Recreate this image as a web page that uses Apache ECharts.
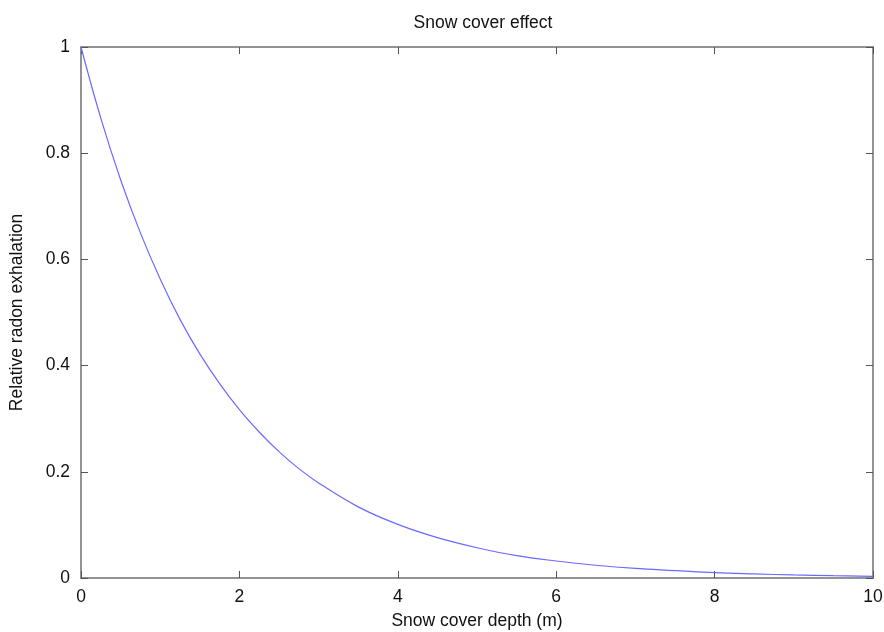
<!DOCTYPE html>
<html>
<head>
<meta charset="utf-8">
<script src="https://cdn.jsdelivr.net/npm/echarts@6/dist/echarts.min.js"></script>
<style>
  html, body { margin: 0; padding: 0; background: #fff; }
  #chart { width: 884px; height: 632px; }
</style>
</head>
<body>
<div id="chart"></div>
<script>
// Snow depth (m) and relative radon exhalation under that depth
const depth = [0, 0.25, 0.5, 0.75, 1.0, 1.25, 1.5, 1.75, 2.0, 2.25, 2.5, 2.75, 3.0,
  3.5, 4.0, 4.5, 5.0, 5.5, 6.0, 6.5, 7.0, 7.5, 8.0, 8.5, 9.0, 9.5, 10];
const exhalation = [1.0, 0.866, 0.75, 0.65, 0.563, 0.487, 0.422, 0.366, 0.317, 0.275,
  0.238, 0.206, 0.179, 0.134, 0.101, 0.076, 0.057, 0.042, 0.032, 0.024, 0.018,
  0.014, 0.010, 0.0076, 0.0057, 0.0043, 0.0032];

const xTicks = [0, 2, 4, 6, 8, 10];
const yTicks = [0, 0.2, 0.4, 0.6, 0.8, 1];

const FONT = 'Liberation Sans, Arial, Helvetica, sans-serif';
const FS = 17.5;
const FRAME = '#707070';
const TICK = '#555555';

const points = depth.map((d, i) => [d, exhalation[i]]);

const frameAxis = {
  axisLine: { show: true, onZero: false, lineStyle: { color: FRAME, width: 1.5 } },
  axisTick: { show: true, inside: true, length: 7, lineStyle: { color: TICK, width: 1 } },
  splitLine: { show: false }
};

const chart = echarts.init(document.getElementById('chart'), null, { renderer: 'canvas' });
chart.setOption({
  animation: false,
  backgroundColor: '#ffffff',
  title: {
    text: 'Snow cover effect',
    left: 478,
    textAlign: 'center',
    top: 9,
    textStyle: { fontFamily: FONT, fontSize: FS, fontWeight: 'normal', color: '#111' }
  },
  grid: { left: 81, right: 11, top: 47, bottom: 54, containLabel: false, outerBoundsMode: 'none' },
  xAxis: [
    Object.assign({
      type: 'value', position: 'bottom',
      min: xTicks[0], max: xTicks[xTicks.length - 1], interval: xTicks[1] - xTicks[0],
      name: 'Snow cover depth (m)', nameLocation: 'middle', nameGap: 34,
      nameTextStyle: { fontFamily: FONT, fontSize: FS, color: '#111' },
      axisLabel: { fontFamily: FONT, fontSize: FS, color: '#111', margin: 10 }
    }, frameAxis),
    Object.assign({
      type: 'value', position: 'top',
      min: xTicks[0], max: xTicks[xTicks.length - 1], interval: xTicks[1] - xTicks[0],
      axisLabel: { show: false }
    }, frameAxis)
  ],
  yAxis: [
    Object.assign({
      type: 'value', position: 'left',
      min: yTicks[0], max: yTicks[yTicks.length - 1], interval: yTicks[1] - yTicks[0],
      name: 'Relative radon exhalation', nameLocation: 'middle', nameGap: 55,
      nameTextStyle: { fontFamily: FONT, fontSize: FS, color: '#111' },
      axisLabel: { fontFamily: FONT, fontSize: FS, color: '#111', margin: 11 }
    }, frameAxis),
    Object.assign({
      type: 'value', position: 'right',
      min: yTicks[0], max: yTicks[yTicks.length - 1], interval: yTicks[1] - yTicks[0],
      axisLabel: { show: false }
    }, frameAxis)
  ],
  series: [{
    type: 'line',
    xAxisIndex: 0,
    yAxisIndex: 0,
    data: points,
    smooth: 0.4,
    showSymbol: false,
    lineStyle: { color: '#6a6aff', width: 1.2 }
  }]
});
</script>
</body>
</html>
